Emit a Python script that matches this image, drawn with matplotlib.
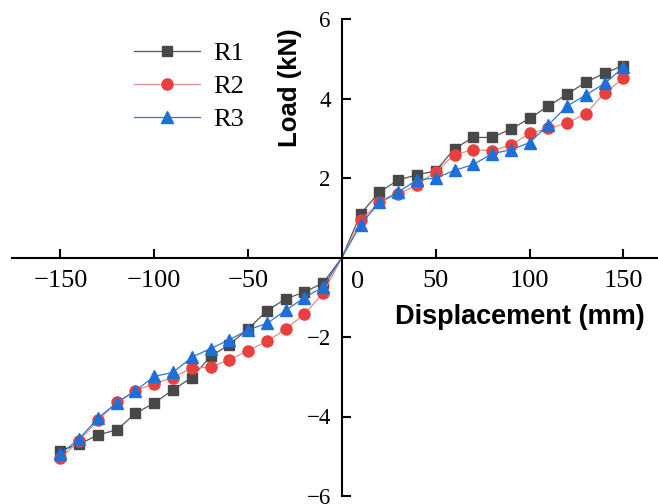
import matplotlib
matplotlib.use("Agg")
import matplotlib.pyplot as plt

displacement = [-150, -140, -130, -120, -110, -100, -90, -80, -70, -60, -50, -40, -30, -20, -10,
                0, 10, 20, 30, 40, 50, 60, 70, 80, 90, 100, 110, 120, 130, 140, 150]

r1 = [-4.86, -4.70, -4.46, -4.34, -3.92, -3.66, -3.33, -3.02, -2.49, -2.19, -1.80, -1.34, -1.04, -0.87, -0.64,
      0.0, 1.10, 1.65, 1.95, 2.08, 2.18, 2.74, 3.02, 3.02, 3.23, 3.50, 3.81, 4.11, 4.41, 4.64, 4.83]
r2 = [-5.05, -4.61, -4.10, -3.64, -3.35, -3.17, -3.02, -2.78, -2.76, -2.57, -2.34, -2.11, -1.80, -1.43, -0.89,
      0.0, 0.94, 1.39, 1.60, 1.82, 2.16, 2.59, 2.71, 2.69, 2.83, 3.12, 3.25, 3.38, 3.62, 4.14, 4.51]
r3 = [-4.94, -4.56, -4.04, -3.66, -3.35, -2.99, -2.89, -2.51, -2.29, -2.07, -1.82, -1.66, -1.33, -1.01, -0.74,
      0.0, 0.83, 1.39, 1.65, 1.95, 2.00, 2.19, 2.34, 2.61, 2.71, 2.89, 3.34, 3.81, 4.09, 4.38, 4.78]

series_names = ["R1", "R2", "R3"]
xtick_vals = [-150, -100, -50, 50, 100, 150]
ytick_vals = [-6, -4, -2, 2, 4, 6]

W, H = 658, 504
fig = plt.figure(figsize=(W / 100, H / 100), dpi=100)
ax = fig.add_axes([12 / W, 8 / H, 1 - 12 / W, 477 / H])
ax.set_xlim(-175.8, 168.4)
ax.set_ylim(-6, 6)

serif = "Liberation Serif"
sans = "Liberation Sans"

styles = [
    dict(marker="s", color="#555555", mfc="#484848", mec="#484848", ms=7.5),
    dict(marker="o", color="#e88a8a", mfc="#e8403e", mec="#e8403e", ms=8),
    dict(marker="^", color="#2e78d0", mfc="#1f6fd8", mec="#1f6fd8", ms=9),
]
mark_idx = [i for i in range(len(displacement)) if displacement[i] != 0]
for vals, st, name in zip([r1, r2, r3], styles, series_names):
    ax.plot(displacement, vals, lw=0.9, markevery=mark_idx, label=name, **st)

for s in ["top", "right"]:
    ax.spines[s].set_visible(False)
ax.spines["left"].set_position(("data", 0))
ax.spines["bottom"].set_position(("data", 0))
for s in ["left", "bottom"]:
    ax.spines[s].set_linewidth(1.5)

ax.set_xticks(xtick_vals)
ax.set_xticklabels([("\u2212%d" % -v) if v < 0 else str(v) for v in xtick_vals],
                   fontfamily=serif, fontsize=19)
ax.set_yticks(ytick_vals)
ax.set_yticklabels([("\u2212%d" % -v) if v < 0 else str(v) for v in ytick_vals],
                   fontfamily=serif, fontsize=16.5)
ax.tick_params(axis="x", direction="in", length=6.5, width=1.5, pad=9)
ax.tick_params(axis="y", direction="in", length=6.5, width=1.5, pad=8)

ax.annotate("0", xy=(0, 0), xycoords="data", xytext=(16, -14), textcoords="offset pixels",
            ha="center", va="top", fontfamily=serif, fontsize=19)

fig.text(520 / W, 1 - 317 / H, "Displacement (mm)", fontfamily=sans, fontweight="bold",
         fontsize=19.5, ha="center", va="center")
fig.text(290 / W, 1 - 88 / H, "Load (kN)", fontfamily=sans, fontweight="bold",
         fontsize=18.5, ha="center", va="center", rotation=90)

leg = ax.legend(loc="upper left", bbox_to_anchor=(134 / W, 1 - 42 / H),
                bbox_transform=fig.transFigure, frameon=False, borderpad=0,
                borderaxespad=0, handlelength=2.5, handletextpad=0.5,
                labelspacing=0.36, prop={"family": serif, "size": 19})

fig.savefig("out.png", dpi=100)
